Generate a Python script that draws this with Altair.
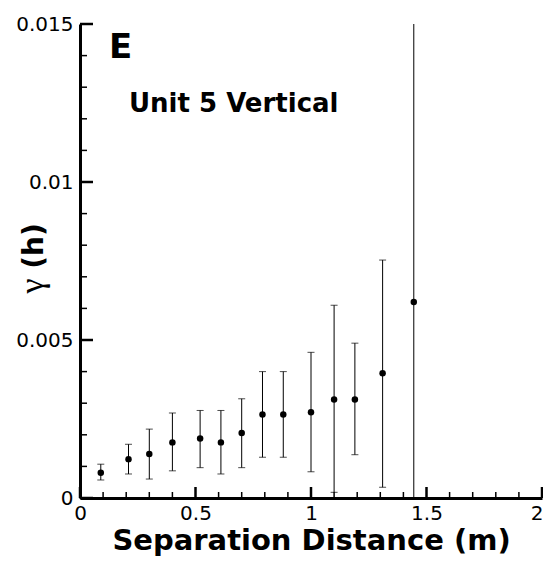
import altair as alt
import pandas as pd

# Data
dist = [0.09, 0.21, 0.30, 0.40, 0.52, 0.61, 0.70, 0.79, 0.88, 1.00, 1.10, 1.19, 1.31, 1.445]
gamma = [0.0008, 0.00123, 0.00139, 0.00176, 0.00188, 0.00176, 0.00206, 0.00264,
         0.00264, 0.00271, 0.00312, 0.00312, 0.00395, 0.0062]
upper = [0.00107, 0.0017, 0.00218, 0.00269, 0.00277, 0.00277, 0.00314, 0.0040,
         0.0040, 0.00461, 0.0061, 0.0049, 0.00753, 0.0157]
lower = [0.00057, 0.00076, 0.0006, 0.00086, 0.00096, 0.00076, 0.00096, 0.00129,
         0.00129, 0.00083, 0.00018, 0.00137, 0.00034, -0.0033]

x_major = [0, 0.5, 1, 1.5, 2]
x_minor = [0.1, 0.2, 0.3, 0.4, 0.6, 0.7, 0.8, 0.9, 1.1, 1.2, 1.3, 1.4, 1.6, 1.7, 1.8, 1.9]
y_major = [0, 0.005, 0.01, 0.015]
y_minor = [0.001, 0.002, 0.003, 0.004, 0.006, 0.007, 0.008, 0.009,
           0.011, 0.012, 0.013, 0.014]

W, H = 462, 474
FONT = "DejaVu Sans"

df = pd.DataFrame({"d": dist, "g": gamma, "hi": upper, "lo": lower})

xs = alt.Scale(domain=[0, 2], nice=False, zero=False)
ys = alt.Scale(domain=[0, 0.015], nice=False, zero=False)

base = alt.Chart(df)

bars = base.mark_rule(color="black", strokeWidth=1, clip=True).encode(
    x=alt.X("d:Q", scale=xs,
            axis=alt.Axis(values=x_major, format="~f", title="Separation Distance (m)",
                          ticks=False, grid=False, domainWidth=3, domainColor="black",
                          labelFont=FONT, labelFontSize=20, labelColor="black",
                          labelPadding=5, labelFlush=False,
                          labelAlign={"condition": {"test": "datum.value == 2", "value": "right"},
                                      "value": "center"},
                          labelOffset={"condition": {"test": "datum.value == 2", "value": 1},
                                       "value": 0},
                          titleFont=FONT, titleFontSize=29, titleFontWeight="bold",
                          titleColor="black", titleY=51, titleBaseline="alphabetic")),
    y=alt.Y("lo:Q", scale=ys,
            axis=alt.Axis(values=y_major, format="~f", title=None,
                          ticks=False, grid=False, domainWidth=3, domainColor="black",
                          labelFont=FONT, labelFontSize=20, labelColor="black",
                          labelPadding=7, labelFlush=False)),
    y2="hi:Q",
)

cap_hi = base.mark_tick(color="black", thickness=1, size=7, orient="horizontal", clip=True).encode(
    x=alt.X("d:Q", scale=xs), y=alt.Y("hi:Q", scale=ys))
cap_lo = base.mark_tick(color="black", thickness=1, size=7, orient="horizontal", clip=True).encode(
    x=alt.X("d:Q", scale=xs), y=alt.Y("lo:Q", scale=ys))

pts = base.mark_circle(color="black", opacity=1, size=42).encode(
    x=alt.X("d:Q", scale=xs), y=alt.Y("g:Q", scale=ys))

def xticks(vals, length, sw):
    return alt.Chart(pd.DataFrame({"v": vals})).mark_rule(color="black", strokeWidth=sw).encode(
        x=alt.X("v:Q", scale=xs), y=alt.value(H), y2=alt.value(H - length))

def yticks(vals, length, sw):
    return alt.Chart(pd.DataFrame({"v": vals})).mark_rule(color="black", strokeWidth=sw).encode(
        y=alt.Y("v:Q", scale=ys), x=alt.value(0), x2=alt.value(length))

def text(t, font, size, weight, x, y, angle=0, align="left", baseline="alphabetic"):
    return alt.Chart(pd.DataFrame({"t": [t]})).mark_text(
        font=font, fontSize=size, fontWeight=weight, align=align, baseline=baseline,
        color="black", angle=angle
    ).encode(text="t:N", x=alt.value(x), y=alt.value(y))

label_e = text("E", FONT, 34, "bold", 29, 34)
label_unit = text("Unit 5 Vertical", FONT, 26, "bold", 49, 88)
ytitle_g = text("γ", "Liberation Serif", 34, "normal", -47, 262, angle=270,
                align="center", baseline="middle")
ytitle_h = text("(h)", FONT, 28, "bold", -45, 222, angle=270,
                align="center", baseline="middle")

chart = alt.layer(
    bars, cap_hi, cap_lo, pts,
    xticks(x_major, 11, 2.5), xticks(x_minor, 6, 1.5),
    yticks(y_major, 13, 2.5), yticks(y_minor, 7, 1.5),
    label_e, label_unit, ytitle_g, ytitle_h,
).properties(
    width=W, height=H,
    background="white",
    autosize=alt.AutoSizeParams(type="none"),
    padding={"left": 72, "top": 16, "right": 1, "bottom": 59},
).configure_view(stroke=None)

chart.save("out.html", embed_options={"renderer": "svg", "actions": False})
